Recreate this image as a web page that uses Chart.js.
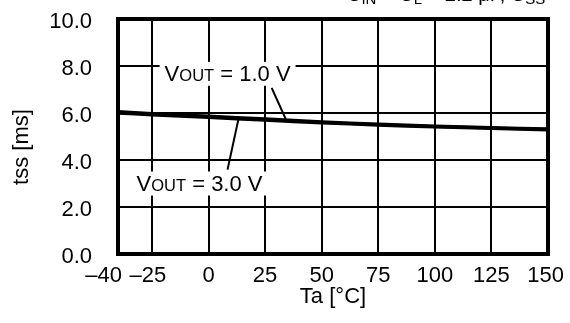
<!DOCTYPE html>
<html>
<head>
<meta charset="utf-8">
<script src="https://cdn.jsdelivr.net/npm/chart.js@4"></script>
<style>
  html, body { margin: 0; padding: 0; background: #fff; }
  canvas { display: block; }
</style>
</head>
<body>
<canvas id="tssChart" width="570" height="323"></canvas>
<script>
// Soft-start time vs ambient temperature
const temps = [-40, -25, 0, 25, 50, 75, 100, 125, 150];
const tssVout1 = [6.05, 5.97, 5.86, 5.74, 5.62, 5.52, 5.44, 5.37, 5.32];
const tssVout3 = [6.00, 5.93, 5.82, 5.70, 5.59, 5.49, 5.41, 5.35, 5.29];
const xTicks = [-40, -25, 0, 25, 50, 75, 100, 125, 150];
const yTicks = [0, 2, 4, 6, 8, 10];

const FONT = "'Liberation Sans', Arial, sans-serif";
const SIZE = 22;
const SUB = 16.5;

// text made of normal and small parts, returns end x
function drawParts(ctx, parts, x, y, size, sub) {
    parts.forEach(p => {
        ctx.font = (p.sub ? sub : size) + "px " + FONT;
        ctx.fillText(p.t, x, y + (p.dy || 0));
        x += ctx.measureText(p.t).width;
    });
    return x;
}

function partsWidth(ctx, parts, size, sub) {
    let w = 0;
    parts.forEach(p => {
        ctx.font = (p.sub ? sub : size) + "px " + FONT;
        w += ctx.measureText(p.t).width;
    });
    return w;
}

// callouts, positions in data units
const callouts = [
    { parts: [{t: "V"}, {t: "OUT", sub: true}, {t: " = 1.0 V"}], at: [-19.4, 7.37], from: [27.9, 7.07], to: [34.5, 5.66] },
    { parts: [{t: "V"}, {t: "OUT", sub: true}, {t: " = 3.0 V"}], at: [-31.8, 2.70], from: [8.4, 3.59], to: [13.3, 5.78] }
];

const decorPlugin = {
    id: "decor",
    afterDatasetsDraw(chart) {
        const {ctx, chartArea: a, scales: {x, y}} = chart;
        ctx.save();
        ctx.fillStyle = "#000";
        ctx.strokeStyle = "#000";

        // callout labels with white knock-out behind them
        ctx.textBaseline = "alphabetic";
        ctx.textAlign = "left";
        callouts.forEach(c => {
            const px = x.getPixelForValue(c.at[0]);
            const py = y.getPixelForValue(c.at[1]);
            const w = partsWidth(ctx, c.parts, SIZE, SUB);
            ctx.fillStyle = "#fff";
            ctx.fillRect(px - 5, py - 19, w + 10, 24);
            ctx.fillStyle = "#000";
            drawParts(ctx, c.parts, px, py, SIZE, SUB);
            ctx.beginPath();
            ctx.lineWidth = 2;
            ctx.moveTo(x.getPixelForValue(c.from[0]), y.getPixelForValue(c.from[1]));
            ctx.lineTo(x.getPixelForValue(c.to[0]), y.getPixelForValue(c.to[1]));
            ctx.stroke();
        });

        // heavy plot frame
        ctx.lineWidth = 4;
        ctx.strokeRect(a.left, a.top, a.right - a.left, a.bottom - a.top);

        // tick labels
        ctx.font = SIZE + "px " + FONT;
        ctx.textAlign = "right";
        ctx.textBaseline = "middle";
        yTicks.forEach(v => {
            ctx.fillText(v.toFixed(1), 92, y.getPixelForValue(v) + 3);
        });
        ctx.textBaseline = "alphabetic";
        xTicks.forEach((v, i) => {
            const s = v < 0 ? "\u2013" + Math.abs(v) : String(v);
            const half = ctx.measureText(s).width / 2;
            let cx = x.getPixelForValue(v);
            // first label sits left of the corner so it clears its neighbour
            if (i === 0) cx = a.left + 4 - half;
            if (i === 1) cx -= 4;
            cx = Math.min(cx, chart.width - 6 - half);
            ctx.textAlign = "center";
            ctx.fillText(s, cx, a.bottom + 28);
        });

        // axis titles
        ctx.fillText("Ta [°C]", (a.left + a.right) / 2, 303);
        ctx.translate(22, 147);
        ctx.rotate(-Math.PI / 2);
        ctx.textBaseline = "middle";
        ctx.fillText("tss [ms]", 0, 0);
        ctx.restore();

        // test conditions line, runs past the top edge
        ctx.save();
        ctx.fillStyle = "#000";
        ctx.textBaseline = "alphabetic";
        drawParts(ctx, [
            {t: "C"}, {t: "IN", sub: true, dy: 3}, {t: " = C"}, {t: "L", sub: true, dy: 3},
            {t: " = 2.2 μF, C"}, {t: "SS", sub: true, dy: 3}, {t: " = "}
        ], 347, 1, 20, 15);
        ctx.restore();
    }
};

new Chart(document.getElementById("tssChart"), {
    type: "line",
    data: {
        datasets: [{
            label: "VOUT = 1.0 V",
            data: temps.map((t, i) => ({x: t, y: tssVout1[i]})),
            borderColor: "#000",
            borderWidth: 3.5,
            pointRadius: 0,
            tension: 0.4
        }, {
            label: "VOUT = 3.0 V",
            data: temps.map((t, i) => ({x: t, y: tssVout3[i]})),
            borderColor: "#000",
            borderWidth: 3.5,
            pointRadius: 0,
            tension: 0.4
        }]
    },
    options: {
        responsive: false,
        animation: false,
        layout: { padding: { top: 19, right: 22 } },
        plugins: { legend: { display: false }, tooltip: { enabled: false } },
        scales: {
            x: {
                type: "linear",
                min: -40,
                max: 150,
                afterBuildTicks: s => { s.ticks = xTicks.map(v => ({value: v})); },
                afterFit: s => { s.height = 69; },
                grid: { color: "#000", lineWidth: 2, drawTicks: false },
                border: { display: false },
                ticks: { display: false }
            },
            y: {
                min: 0,
                max: 10,
                afterBuildTicks: s => { s.ticks = yTicks.map(v => ({value: v})); },
                afterFit: s => { s.width = 118; },
                grid: { color: "#000", lineWidth: 2, drawTicks: false },
                border: { display: false },
                ticks: { display: false }
            }
        }
    },
    plugins: [decorPlugin]
});
</script>
</body>
</html>
